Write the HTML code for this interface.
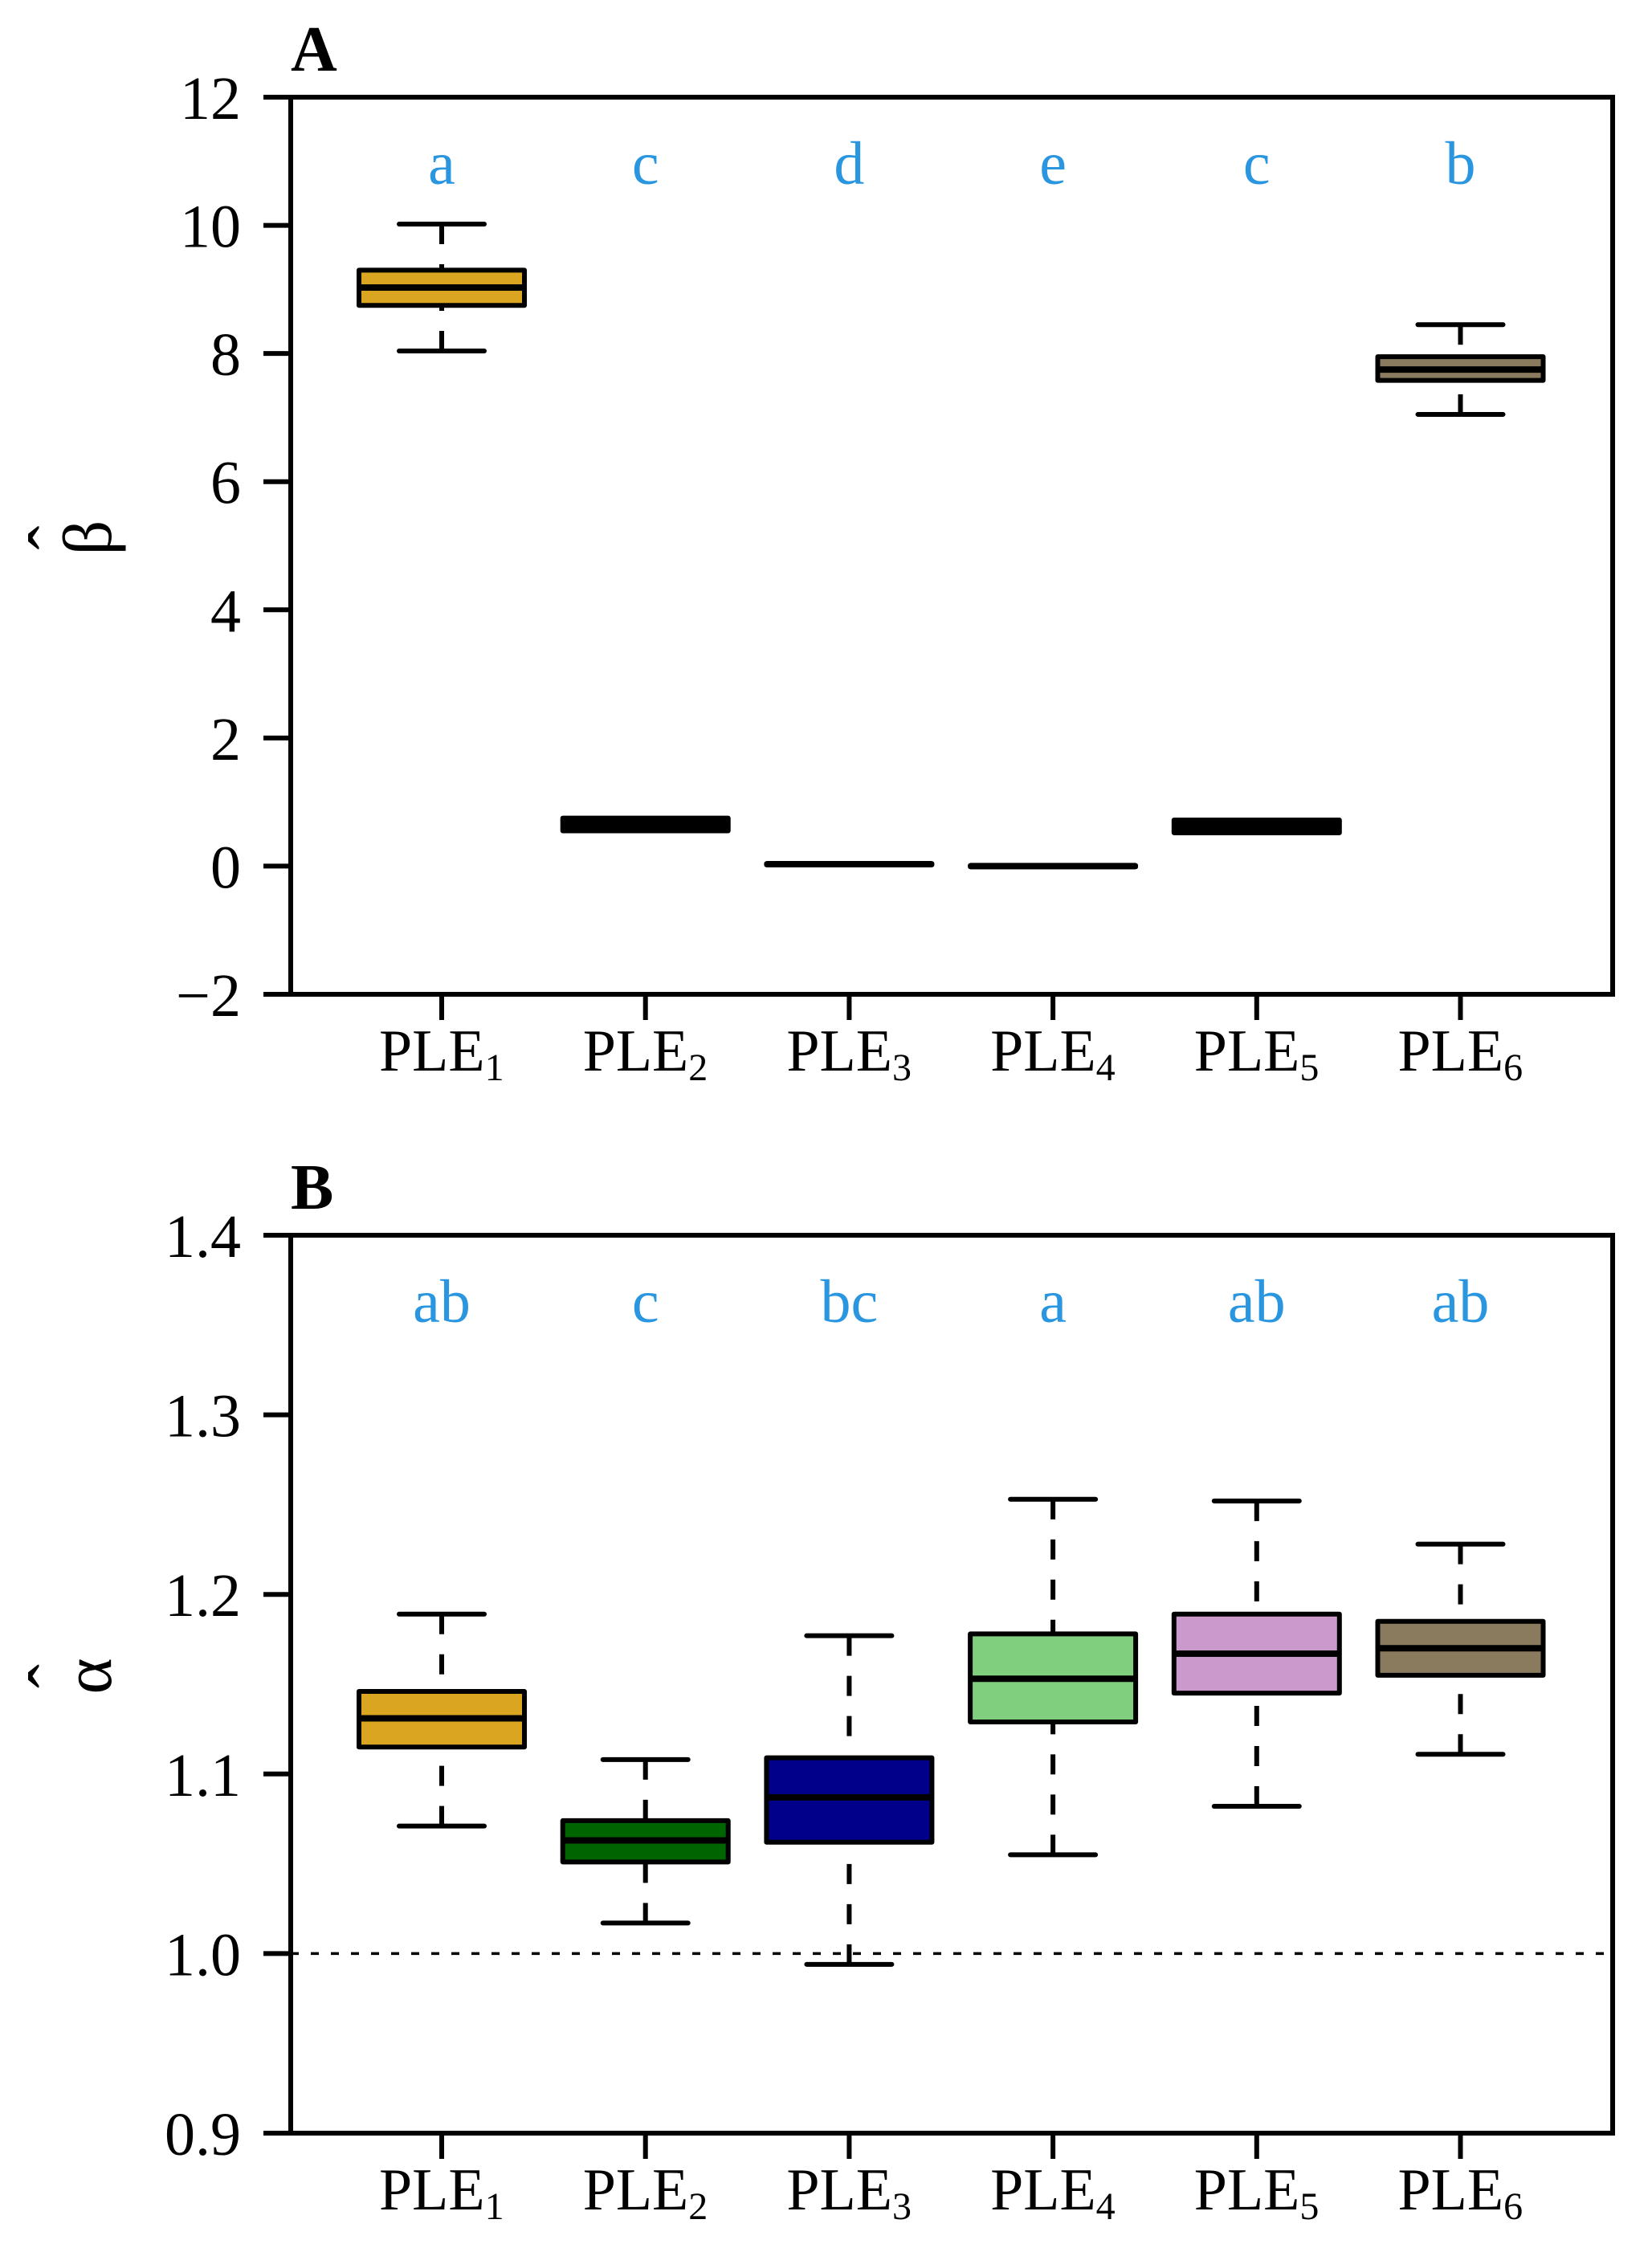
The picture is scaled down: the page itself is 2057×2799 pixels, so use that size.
<!DOCTYPE html>
<html><head><meta charset="utf-8"><style>html,body{margin:0;padding:0;background:#fff}svg{display:block}</style></head>
<body>
<svg id="chart" width="2057" height="2799" viewBox="0 0 2057 2799" xmlns="http://www.w3.org/2000/svg" font-family="Liberation Serif, serif">
<g id="panelA"></g>
<g id="panelB"></g>
</svg>
<script>
const categories = ["1","2","3","4","5","6"];
const colors = ["#DAA520","#006400","#00008B","#7FCF7F","#CC99CC","#8B7B5E"];
// Panel A (beta hat)
const betaLow    = [8.04, 0.62, 0.03, 0.00, 0.60, 7.05];
const betaQ1     = [8.75, 0.55, 0.02, -0.01, 0.52, 7.58];
const betaMed    = [9.03, 0.65, 0.03, 0.00, 0.60, 7.75];
const betaQ3     = [9.30, 0.75, 0.04, 0.01, 0.72, 7.95];
const betaHigh   = [10.02, 0.68, 0.03, 0.00, 0.63, 8.45];
const betaLetters = ["a","c","d","e","c","b"];
const betaTicks = [-2,0,2,4,6,8,10,12];
const betaTickLabels = ["\u22122","0","2","4","6","8","10","12"];
// Panel B (alpha hat)
const alphaLow  = [1.071, 1.017, 0.994, 1.055, 1.082, 1.111];
const alphaQ1   = [1.115, 1.051, 1.062, 1.129, 1.145, 1.155];
const alphaMed  = [1.131, 1.063, 1.087, 1.153, 1.167, 1.170];
const alphaQ3   = [1.146, 1.074, 1.109, 1.178, 1.189, 1.185];
const alphaHigh = [1.189, 1.108, 1.177, 1.253, 1.252, 1.228];
const alphaLetters = ["ab","c","bc","a","ab","ab"];
const alphaTicks = [0.9,1.0,1.1,1.2,1.3,1.4];
const alphaTickLabels = ["0.9","1.0","1.1","1.2","1.3","1.4"];
const alphaRef = 1.0;

const NS="http://www.w3.org/2000/svg";
function mk(parent, tag, attrs){const e=document.createElementNS(NS,tag);for(const k in attrs)e.setAttribute(k,attrs[k]);parent.appendChild(e);return e;}
const L=362,R=2008,x0=550,dx=253.7;
function xs(i){return x0+i*dx;}

function panel(g, cfg){
  const ys=v=>cfg.bottom-(v-cfg.min)/(cfg.max-cfg.min)*(cfg.bottom-cfg.top);
  const pl=mk(g,'text',{x:L,y:cfg.top-33,'font-size':80,'font-weight':'bold'});pl.textContent=cfg.label;
  
  
  if(cfg.ref!==undefined){const r=mk(g,'line',{x1:L,x2:R,y1:ys(cfg.ref),y2:ys(cfg.ref),stroke:'#000','stroke-width':3.5,'stroke-dasharray':'10 15'});
    
    }
  for(let i=0;i<categories.length;i++){
    const x=xs(i);
    const bg=mk(g,'g',{});
    
    
    const q1=ys(cfg.q1[i]),q3=ys(cfg.q3[i]),lo=ys(cfg.lo[i]),hi=ys(cfg.hi[i]),md=ys(cfg.med[i]);
    mk(bg,'line',{x1:x,x2:x,y1:hi,y2:q3,stroke:'#000','stroke-width':6,'stroke-dasharray':'25 25'});
    mk(bg,'line',{x1:x,x2:x,y1:lo,y2:q1,stroke:'#000','stroke-width':6,'stroke-dasharray':'25 25'});
    mk(bg,'line',{x1:x-53,x2:x+53,y1:hi,y2:hi,stroke:'#000','stroke-width':6,'stroke-linecap':'round'});
    mk(bg,'line',{x1:x-53,x2:x+53,y1:lo,y2:lo,stroke:'#000','stroke-width':6,'stroke-linecap':'round'});
    const h=Math.abs(q1-q3);
    mk(bg,'rect',{x:x-103,y:Math.min(q1,q3),width:206,height:Math.max(h,0.5),fill:h<25?'#000':colors[i],stroke:'#000','stroke-width':6,'stroke-linejoin':'round'});
    mk(bg,'line',{x1:x-103,x2:x+103,y1:md,y2:md,stroke:'#000','stroke-width':8});
    const t=mk(g,'text',{x:x,y:cfg.top+108,'font-size':76,fill:'#2A96E0','text-anchor':'middle'});t.textContent=cfg.letters[i];
    
    
    mk(g,'line',{x1:x,x2:x,y1:cfg.bottom,y2:cfg.bottom+32,stroke:'#000','stroke-width':6});
    const xl=mk(g,'text',{x:x-78,y:cfg.bottom+95,'font-size':74});
    
    
    xl.appendChild(document.createTextNode('PLE'));
    const sub=mk(xl,'tspan',{'font-size':48,dy:12});sub.textContent=categories[i];
  }
  for(let j=0;j<cfg.ticks.length;j++){
    const y=ys(cfg.ticks[j]);
    mk(g,'line',{x1:L-34,x2:L,y1:y,y2:y,stroke:'#000','stroke-width':6});
    const tl=mk(g,'text',{x:300,y:y+27,'font-size':76,'text-anchor':'end'});tl.textContent=cfg.tickLabels[j];
    
    
  }
  const fr=mk(g,'rect',{x:L,y:cfg.top,width:R-L,height:cfg.bottom-cfg.top,fill:'none',stroke:'#000','stroke-width':6});
  
  
  const cy=(cfg.top+cfg.bottom)/2-10;
  const yg=mk(g,'g',{transform:`translate(138,${cy}) rotate(-90)`});
  
  
  const yt=mk(yg,'text',{x:0,y:0,'font-size':86,'text-anchor':'middle'});
  yt.textContent=cfg.ytitle;
  const hat=mk(yg,'text',{x:0,y:-40,'font-size':90,'text-anchor':'middle'});
  hat.textContent='\u02C6';
}
panel(document.getElementById('panelA'),{top:121,bottom:1238,min:-2,max:12,lo:betaLow,q1:betaQ1,med:betaMed,q3:betaQ3,hi:betaHigh,letters:betaLetters,ticks:betaTicks,tickLabels:betaTickLabels,label:'A',ytitle:'\u03B2'});
panel(document.getElementById('panelB'),{top:1538,bottom:2656,min:0.9,max:1.4,lo:alphaLow,q1:alphaQ1,med:alphaMed,q3:alphaQ3,hi:alphaHigh,letters:alphaLetters,ticks:alphaTicks,tickLabels:alphaTickLabels,label:'B',ytitle:'\u03B1',ref:alphaRef});
</script>
</body></html>
